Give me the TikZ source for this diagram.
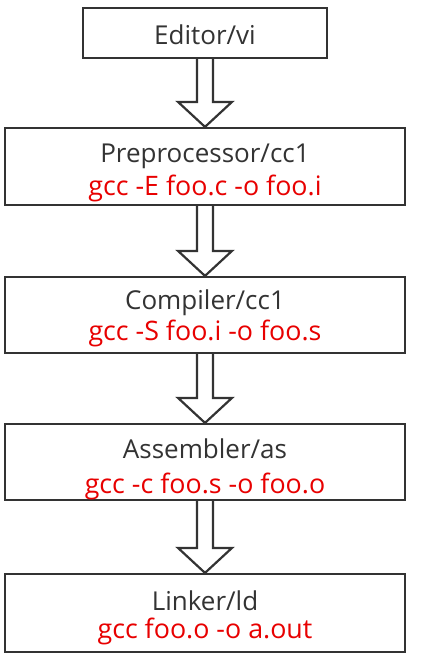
\documentclass[tikz,border=0pt]{standalone}
\usepackage{fontspec}
\setmainfont{Open Sans}
\usetikzlibrary{calc}
\definecolor{edge}{HTML}{333333}
\definecolor{ink}{HTML}{333333}
\definecolor{cmd}{HTML}{E80000}
\tikzset{
  box/.style={draw=edge, line width=2.2pt, fill=white, inner sep=0pt},
  lbltxt/.style={text=ink, font=\fontsize{26}{30}\selectfont, inner sep=0pt},
  cmdtxt/.style={text=cmd, font=\fontsize{26.8}{31}\selectfont, inner sep=0pt},
  fat/.style={draw=edge, line width=2.2pt, fill=white, line join=miter}
}
\begin{document}
\begin{tikzpicture}[x=1pt,y=-1pt]
\useasboundingbox (0,0) rectangle (437,672);
\node[box, minimum width=244pt, minimum height=50pt] (e) at (205,33) {};
\node[box, minimum width=400pt, minimum height=77pt] (p) at (205,166.5) {};
\node[box, minimum width=400pt, minimum height=76pt] (c) at (205,315) {};
\node[box, minimum width=400pt, minimum height=76pt] (a) at (205,462) {};
\node[box, minimum width=400pt, minimum height=78pt] (l) at (205,613) {};
\node[lbltxt] (et) at (205,35) {Editor/vi};
\node[lbltxt] (pt) at (205,156) {Preprocessor/cc1};
\node[cmdtxt] (pc) at (205,188) {gcc -E foo.c -o foo.i};
\node[lbltxt] (ct) at (205,303) {Compiler/cc1};
\node[cmdtxt] (cc) at (205,333) {gcc -S foo.i -o foo.s};
\node[lbltxt] (at) at (205,449) {Assembler/as};
\node[cmdtxt] (ac) at (205,486) {gcc -c foo.s -o foo.o};
\node[lbltxt] (lt) at (205,601) {Linker/ld};
\node[cmdtxt] (lc) at (205,631) {gcc foo.o -o a.out};
\foreach \s/\t in {e/p,p/c,c/a,a/l}{
  \draw[fat] ($(\s.south)+(-8,0)$) -- ($(\t.north)+(-8,-25)$) -- ($(\t.north)+(-27,-25)$)
    -- (\t.north) -- ($(\t.north)+(27,-25)$) -- ($(\t.north)+(8,-25)$) -- ($(\s.south)+(8,0)$);
}
\end{tikzpicture}
\end{document}
